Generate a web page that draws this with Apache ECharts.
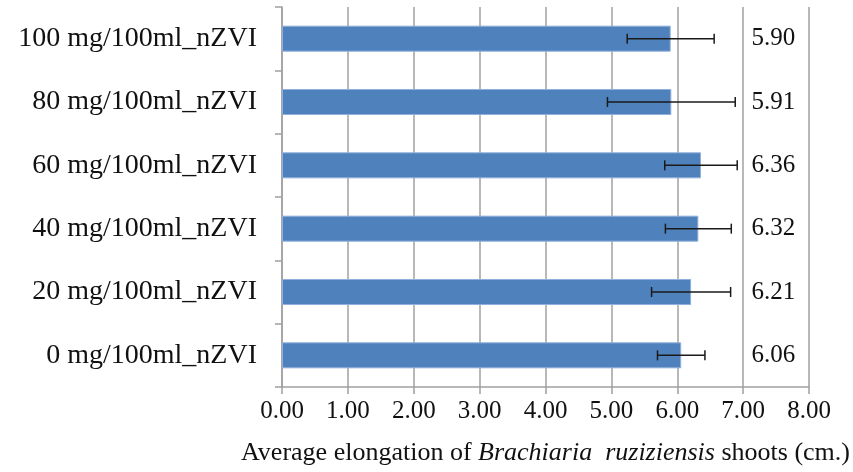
<!DOCTYPE html>
<html>
<head>
<meta charset="utf-8">
<script src="https://cdn.jsdelivr.net/npm/echarts@6/dist/echarts.min.js"></script>
<style>
  html, body { margin: 0; padding: 0; background: #ffffff; }
  #chart { width: 853px; height: 472px; }
</style>
</head>
<body>
<div id="chart"></div>
<script>
// Shoot elongation per nZVI dose (bottom to top)
const categories = [
  '0 mg/100ml_nZVI',
  '20 mg/100ml_nZVI',
  '40 mg/100ml_nZVI',
  '60 mg/100ml_nZVI',
  '80 mg/100ml_nZVI',
  '100 mg/100ml_nZVI'
];
const meanValues = [6.06, 6.21, 6.32, 6.36, 5.91, 5.90];
const sdValues = [0.36, 0.60, 0.50, 0.55, 0.97, 0.66];
const xTicks = [0, 1, 2, 3, 4, 5, 6, 7, 8];

const serif = '"Liberation Serif", "Times New Roman", serif';
const gridColor = '#a0a0a0';

const chart = echarts.init(document.getElementById('chart'), null, { renderer: 'canvas' });

const errorData = meanValues.map((v, i) => [i, v - sdValues[i], v + sdValues[i]]);
const labelData = meanValues.map((v, i) => [i, v]);

chart.setOption({
  animation: false,
  backgroundColor: '#ffffff',
  grid: { left: 282, right: 43, top: 7, bottom: 85, containLabel: false },
  xAxis: {
    type: 'value',
    min: xTicks[0],
    max: xTicks[xTicks.length - 1],
    interval: 1,
    axisLine: { show: true, lineStyle: { color: gridColor, width: 1.5 } },
    axisTick: { show: true, length: 7, lineStyle: { color: gridColor, width: 1.5 } },
    splitLine: { show: true, lineStyle: { color: gridColor, width: 1.5 } },
    axisLabel: {
      fontFamily: serif, fontSize: 25, color: '#111', margin: 12,
      formatter: v => v.toFixed(2)
    },
    name: '{n|Average elongation of }{i|Brachiaria  ruziziensis}{n| shoots (cm.)}',
    nameLocation: 'middle',
    nameGap: 53,
    nameTextStyle: {
      rich: {
        n: { fontFamily: serif, fontSize: 26, color: '#111' },
        i: { fontFamily: serif, fontSize: 26, fontStyle: 'italic', color: '#111' }
      }
    }
  },
  yAxis: {
    type: 'category',
    data: categories,
    axisLine: { show: true, lineStyle: { color: gridColor, width: 1.5 } },
    axisTick: { show: true, length: 7, lineStyle: { color: gridColor, width: 1.5 } },
    axisLabel: { fontFamily: serif, fontSize: 28, color: '#111', margin: 25 }
  },
  series: [
    {
      type: 'bar',
      data: meanValues,
      barWidth: 26,
      itemStyle: { color: '#4f81bd', borderColor: '#8fb0da', borderWidth: 1 },
      z: 2
    },
    {
      // error bars: mean ± sd with end caps
      type: 'custom',
      data: errorData,
      z: 5,
      renderItem: function (params, api) {
        const idx = api.value(0);
        const lo = api.coord([api.value(1), idx]);
        const hi = api.coord([api.value(2), idx]);
        const cap = 5;
        const style = { stroke: '#1a1a1a', lineWidth: 1.5 };
        return {
          type: 'group',
          children: [
            { type: 'line', shape: { x1: lo[0], y1: lo[1], x2: hi[0], y2: hi[1] }, style },
            { type: 'line', shape: { x1: lo[0], y1: lo[1] - cap, x2: lo[0], y2: lo[1] + cap }, style },
            { type: 'line', shape: { x1: hi[0], y1: hi[1] - cap, x2: hi[0], y2: hi[1] + cap }, style }
          ]
        };
      }
    },
    {
      // mean values written in the 7–8 column
      type: 'custom',
      data: labelData,
      z: 6,
      renderItem: function (params, api) {
        const idx = api.value(0);
        const p = api.coord([7.46, idx]);
        return {
          type: 'text',
          x: p[0],
          y: p[1],
          style: {
            text: api.value(1).toFixed(2),
            fontFamily: serif,
            fontSize: 25,
            fill: '#111',
            align: 'center',
            verticalAlign: 'middle'
          }
        };
      }
    }
  ]
});
</script>
</body>
</html>
